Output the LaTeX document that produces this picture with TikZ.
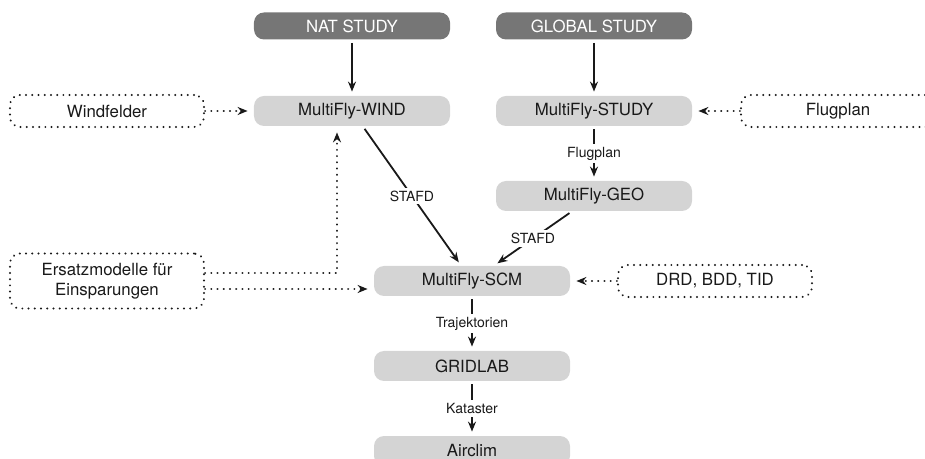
\documentclass[tikz,border=0pt]{standalone}
\usepackage{fontspec}
\setmainfont{TeX Gyre Heros}
\usetikzlibrary{arrows.meta}

\definecolor{studygray}{RGB}{118,118,118}
\definecolor{toolgray}{RGB}{212,212,212}
\definecolor{inkgray}{RGB}{25,25,25}

\tikzset{tool/.style = {rectangle, rounded corners=5pt, fill=toolgray, text=inkgray, minimum width=98pt, minimum height=15pt, inner sep=0pt}}

\begin{document}
\begin{tikzpicture}[node distance=42.5pt, font=\fontsize{8.4}{10}\selectfont]
            % Define node styles
            \tikzstyle{study} = [rectangle, rounded corners=5pt, fill=studygray, text=white, minimum width=98pt, minimum height=13.5pt, inner sep=0pt]
            \tikzstyle{source} = [rectangle, rounded corners=5pt, draw=inkgray, line width=1.1pt, line cap=round, dash pattern=on 0.01pt off 3.1pt, text=inkgray, minimum width=97pt, minimum height=16pt, align=center]
            \tikzstyle{flow} = [-{Stealth[length=5pt,width=4pt]}, line width=0.9pt, inkgray, shorten <=1.5pt, shorten >=2pt]
            \tikzstyle{feed} = [-{Stealth[length=5pt,width=4pt]}, line width=1.1pt, inkgray, line cap=round, dash pattern=on 0.01pt off 3.1pt, shorten >=3pt]
            \tikzstyle{tag} = [fill=white, text=inkgray, font=\fontsize{7}{8}\selectfont, inner sep=1.5pt]

            % Fix the page to the reference margins
            \useasboundingbox (-176pt,13pt) rectangle (286.5pt,-216.5pt);

            % Study nodes (top row, dark background)
            \node[study] (nat) {NAT STUDY};
            \node[study] (global) [right of=nat, node distance=121pt] {GLOBAL STUDY};

            % Tool nodes (light background)
            \node[tool] (wind) [below of=nat] {MultiFly-WIND};
            \node[tool] (study) [below of=global] {MultiFly-STUDY};
            \node[tool] (geo) [below of=study] {MultiFly-GEO};
            \node[tool] (scm) [below of=geo, xshift=-61pt] {MultiFly-SCM};
            \node[tool] (gridlab) [below of=scm] {GRIDLAB};
            \node[tool] (airclim) [below of=gridlab] {Airclim};

            % Input nodes (dotted border)
            \node[source] (windfelder) [left of=wind, node distance=122.5pt] {Windfelder};
            \node[source] (flugplan) [right of=study, node distance=122pt] {Flugplan};
            \node[source] (drd) [right of=scm, node distance=121.5pt] {DRD, BDD, TID};
            \node[source, minimum height=27.5pt] (ersatz) [left of=scm, node distance=182.5pt] {Ersatzmodelle für\\Einsparungen};

            % Main flow
            \draw[flow] (nat) -- (wind);
            \draw[flow] (global) -- (study);
            \draw[flow] (study) -- node[tag] {Flugplan} (geo);
            \draw[flow] (wind) -- node[tag] {STAFD} (scm);
            \draw[flow] (geo) -- node[tag] {STAFD} (scm);
            \draw[flow] (scm) -- node[tag] {Trajektorien} (gridlab);
            \draw[flow] (gridlab) -- node[tag] {Kataster} (airclim);

            % Inputs
            \draw[feed] (windfelder) -- (wind);
            \draw[feed] (flugplan) -- (study);
            \draw[feed] (drd) -- (scm);
            \draw[feed] ([yshift=4pt]ersatz.east) -| ([xshift=-7.5pt]wind.south);
            \draw[feed] ([yshift=-4pt]ersatz.east) -- ([yshift=-4pt]ersatz.east -| scm.west);

        \end{tikzpicture}
\end{document}
